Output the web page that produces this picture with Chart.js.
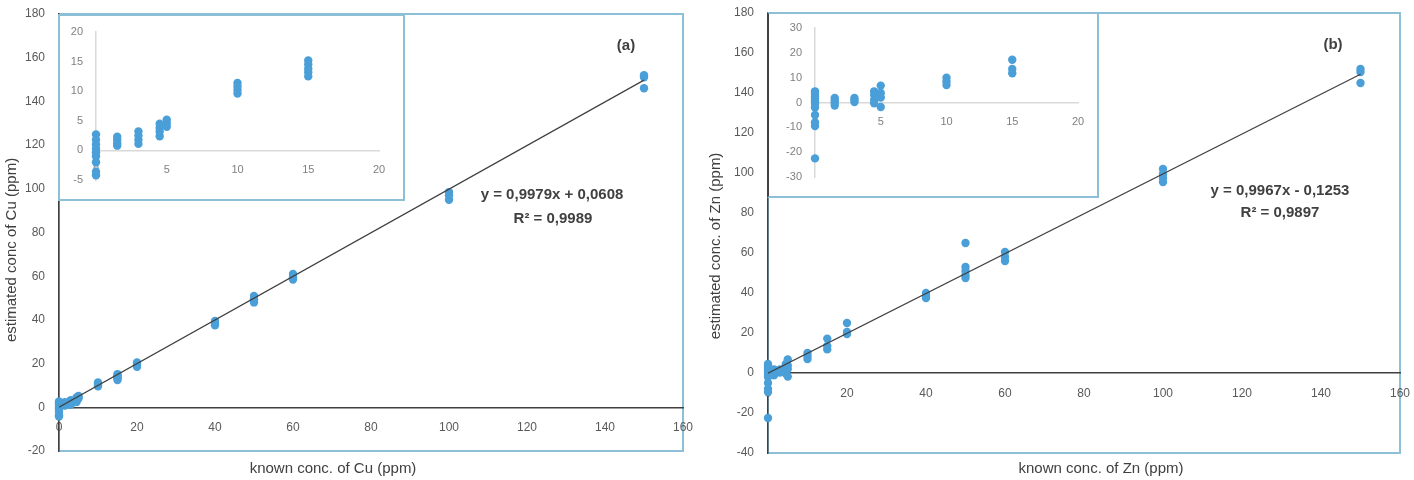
<!DOCTYPE html>
<html>
<head>
<meta charset="utf-8">
<title>Cu / Zn calibration</title>
<script src="https://cdn.jsdelivr.net/npm/chart.js@4.4.0/dist/chart.umd.min.js"></script>
<style>
    html, body { margin: 0; padding: 0; background: #fff; }
    body { width: 1414px; height: 480px; position: relative; overflow: hidden; }
    .main { position: absolute; top: 0; }
    .inset { position: absolute; box-sizing: border-box; border: 2px solid #8dc0d6; background: #fff; }
    canvas { display: block; }
</style>
</head>
<body>
<canvas id="cu-main" class="main" width="700" height="480" style="left:0"></canvas>
<canvas id="zn-main" class="main" width="710" height="480" style="left:704px"></canvas>
<div class="inset" style="left:58px;top:14px;width:347px;height:187px">
    <canvas id="cu-inset" width="343" height="183"></canvas>
</div>
<div class="inset" style="left:767px;top:12px;width:332px;height:186px;border-left-color:#404040">
    <canvas id="zn-inset" width="328" height="182"></canvas>
</div>
<script>
// Known concentrations (ppm) and the estimated readings at each level
const cuLevels = [0, 1.5, 3, 4.5, 5, 10, 15, 20, 40, 50, 60, 100, 150];
const cuReadings = [
    [2.7, 1.8, 1.0, 0.3, -0.3, -1.0, -2.0, -3.6, -4.2],
    [2.3, 1.8, 1.2, 0.8],
    [3.2, 2.5, 1.8, 1.1],
    [4.5, 3.8, 3.2, 2.4],
    [5.2, 4.6, 4.0],
    [11.4, 10.8, 10.2, 9.6],
    [15.2, 14.5, 13.8, 13.2, 12.5],
    [20.5, 19.5, 18.5],
    [39.5, 38.2, 37.5],
    [51, 49.5, 48],
    [61, 59.5, 58.5],
    [98.5, 97, 95],
    [152, 151, 146]
];
const cuSlope = 0.9979;
const cuIntercept = 0.0608;

const znLevels = [0, 1.5, 3, 4.5, 5, 10, 15, 20, 40, 50, 60, 100, 150];
const znReadings = [
    [4.5, 3.5, 2.5, 1.5, 0.5, -0.5, -2, -5, -8, -9.5, -22.5],
    [1.8, 0.8, -0.2, -1.2],
    [1.8, 1, 0.2],
    [4.5, 3, 1, -0.3],
    [6.8, 3.8, 2, -1.8],
    [10, 8.5, 7],
    [17.2, 13.5, 11.8],
    [25, 20.5, 19.5],
    [40, 38.5, 37.5],
    [65, 53, 51, 49, 47.5],
    [60.5, 58, 56],
    [102, 99.5, 97.5, 95.5],
    [152, 150.5, 145]
];
const znSlope = 0.9967;
const znIntercept = -0.1253;

const fitRange = [0, 150];
const mainXRange = [0, 160];
const cuYRange = [-20, 180];
const znYRange = [-40, 180];
const insetXRange = [0, 20];
const cuInsetYRange = [-5, 20];
const znInsetYRange = [-30, 30];

const FONT = "'Liberation Sans', Arial, sans-serif";
const DOT = '#4a9fd8';
const FRAME = '#8dc0d6';

// the insets only show the low levels (below 20 ppm)
function toPoints(levels, readings, maxX) {
    const pts = [];
    levels.forEach((x, i) => {
        if (x >= maxX) return;
        readings[i].forEach(y => pts.push({ x: x, y: y }));
    });
    return pts;
}

// keep chart area exactly where the layout padding puts it
function noOverflow(scale) {
    scale.paddingTop = 0;
    scale.paddingBottom = 0;
    scale.paddingLeft = 0;
    scale.paddingRight = 0;
}

// frame round the plot area + free text (titles, equation)
function decor(cfg) {
    return {
        id: 'decor',
        beforeDraw(chart) {
            if (!cfg.frame) return;
            const a = chart.chartArea;
            const ctx = chart.ctx;
            ctx.save();
            ctx.strokeStyle = cfg.frame;
            ctx.lineWidth = 2;
            ctx.strokeRect(a.left, a.top, a.right - a.left, a.bottom - a.top);
            ctx.restore();
        },
        afterDraw(chart) {
            const ctx = chart.ctx;
            (cfg.texts || []).forEach(t => {
                ctx.save();
                ctx.font = t.font;
                ctx.fillStyle = t.color || '#404040';
                ctx.textAlign = 'center';
                ctx.textBaseline = 'middle';
                ctx.translate(t.x, t.y);
                if (t.rotate) ctx.rotate(t.rotate);
                ctx.fillText(t.text, 0, 0);
                ctx.restore();
            });
        }
    };
}

function mainChart(id, levels, readings, slope, intercept, yRange, yWidth, padding, texts) {
    const ctx = document.getElementById(id).getContext('2d');
    return new Chart(ctx, {
        type: 'scatter',
        data: {
            datasets: [
                {
                    type: 'line',
                    data: fitRange.map(x => ({ x: x, y: slope * x + intercept })),
                    borderColor: '#404040',
                    borderWidth: 1.2,
                    pointRadius: 0,
                    order: 0
                },
                {
                    data: toPoints(levels, readings, Infinity),
                    backgroundColor: DOT,
                    borderWidth: 0,
                    pointRadius: 4.2,
                    clip: false,
                    order: 1
                }
            ]
        },
        options: {
            responsive: false,
            animation: false,
            layout: { padding: padding },
            plugins: { legend: { display: false }, tooltip: { enabled: false } },
            scales: {
                x: {
                    type: 'linear', min: mainXRange[0], max: mainXRange[1],
                    position: { y: 0 },
                    grid: { display: false, drawTicks: false },
                    border: { color: '#404040', width: 1.5 },
                    ticks: { stepSize: 20, padding: 13, color: '#595959', font: { size: 12, family: FONT } },
                    afterFit: noOverflow
                },
                y: {
                    type: 'linear', min: yRange[0], max: yRange[1],
                    grid: { display: false, drawTicks: false },
                    border: { color: '#404040', width: 1.5 },
                    ticks: { stepSize: 20, padding: 14, color: '#595959', font: { size: 12, family: FONT } },
                    afterFit: function(scale) { scale.width = yWidth; noOverflow(scale); }
                }
            }
        },
        plugins: [decor({ frame: FRAME, texts: texts })]
    });
}

function insetChart(id, levels, readings, yRange, yStep, yWidth, padding) {
    const ctx = document.getElementById(id).getContext('2d');
    return new Chart(ctx, {
        type: 'scatter',
        data: {
            datasets: [{
                data: toPoints(levels, readings, insetXRange[1]),
                backgroundColor: DOT,
                borderWidth: 0,
                pointRadius: 4.2,
                clip: false
            }]
        },
        options: {
            responsive: false,
            animation: false,
            layout: { padding: padding },
            plugins: { legend: { display: false }, tooltip: { enabled: false } },
            scales: {
                x: {
                    type: 'linear', min: insetXRange[0], max: insetXRange[1],
                    position: { y: 0 },
                    grid: { display: false, drawTicks: false },
                    border: { color: '#d9d9d9', width: 1.5 },
                    ticks: { stepSize: 5, padding: 13, color: '#808080', font: { size: 11, family: FONT } },
                    afterFit: noOverflow
                },
                y: {
                    type: 'linear', min: yRange[0], max: yRange[1],
                    grid: { display: false, drawTicks: false },
                    border: { color: '#d9d9d9', width: 1.5 },
                    ticks: { stepSize: yStep, padding: 13, color: '#808080', font: { size: 11, family: FONT } },
                    afterFit: function(scale) { scale.width = yWidth; noOverflow(scale); }
                }
            }
        }
    });
}

const titleFont = '15px ' + FONT;
const boldFont = 'bold 15px ' + FONT;

mainChart('cu-main', cuLevels, cuReadings, cuSlope, cuIntercept, cuYRange, 59,
    { left: 0, top: 14, right: 17, bottom: 29 },
    [
        { text: 'estimated conc of Cu (ppm)', x: 12, y: 250, rotate: -Math.PI / 2, font: titleFont },
        { text: 'known conc. of Cu (ppm)', x: 333, y: 469, font: titleFont },
        { text: '(a)', x: 626, y: 46, font: boldFont },
        { text: 'y = 0,9979x + 0,0608', x: 552, y: 195, font: boldFont },
        { text: 'R\u00b2 = 0,9989', x: 553, y: 219, font: boldFont }
    ]);

mainChart('zn-main', znLevels, znReadings, znSlope, znIntercept, znYRange, 64,
    { left: 0, top: 13, right: 14, bottom: 27 },
    [
        { text: 'estimated conc. of Zn (ppm)', x: 12, y: 246, rotate: -Math.PI / 2, font: titleFont },
        { text: 'known conc. of Zn (ppm)', x: 397, y: 469, font: titleFont },
        { text: '(b)', x: 629, y: 45, font: boldFont },
        { text: 'y = 0,9967x - 0,1253', x: 576, y: 191, font: boldFont },
        { text: 'R\u00b2 = 0,9897', x: 576, y: 213, font: boldFont }
    ]);

insetChart('cu-inset', cuLevels, cuReadings, cuInsetYRange, 5, 36, { left: 0, top: 16, right: 24, bottom: 19 });
insetChart('zn-inset', znLevels, znReadings, znInsetYRange, 10, 46, { left: 0, top: 14, right: 19, bottom: 19 });
</script>
</body>
</html>
